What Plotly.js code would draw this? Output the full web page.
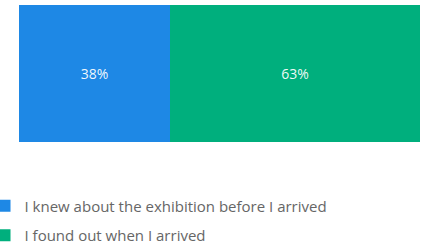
<!DOCTYPE html>
<html><head><meta charset="utf-8">
<script src="https://cdn.plot.ly/plotly-3.0.1.min.js"></script>
<style>html,body{margin:0;padding:0;background:#fff;}#chart{width:428px;height:246px;}</style>
</head><body><div id="chart"></div>
<script>
const categories = ["Response"];
const seriesNames = ["I knew about the exhibition before I arrived", "I found out when I arrived"];
const knewBefore = [38];
const foundOut = [63];
const colors = ["#1E88E5", "#00AF7D"];

const traces = [knewBefore, foundOut].map((vals, i) => ({
  type: "bar",
  orientation: "h",
  name: seriesNames[i],
  legendgroup: "g" + i,
  y: categories,
  x: vals,
  text: vals.map(v => v + "%"),
  textposition: "inside",
  insidetextanchor: "middle",
  textfont: {family: "Open Sans", size: 14, color: "rgba(255,255,255,0.95)"},
  marker: {color: colors[i], line: {width: 0}},
  hoverinfo: "none"
}));

const layout = {
  width: 428, height: 246,
  margin: {l: 19, r: 8, t: 5, b: 104, autoexpand: false},
  paper_bgcolor: "#fff", plot_bgcolor: "#fff",
  barmode: "stack",
  bargap: 0,
  showlegend: true,
  xaxis: {visible: false, range: [0, 101], fixedrange: true},
  yaxis: {visible: false, fixedrange: true},
  legend: {
    x: -0.086, xanchor: "left", y: -0.346, yanchor: "top",
    orientation: "v", traceorder: "grouped",
    font: {family: "Open Sans", size: 15, color: "#666"},
    itemclick: false, tracegroupgap: 7
  },
  font: {family: "Open Sans"}
};
Plotly.newPlot("chart", traces, layout, {displayModeBar: false, staticPlot: true});
</script></body></html>
